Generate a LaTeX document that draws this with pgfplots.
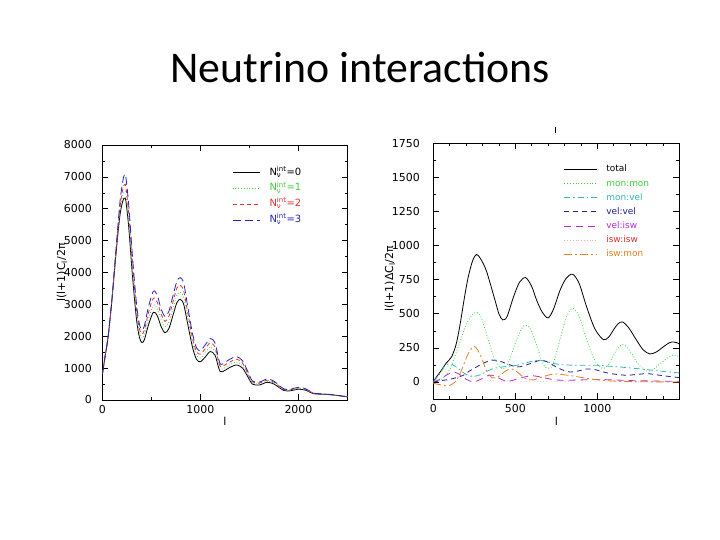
\documentclass[border=0pt]{standalone}
\usepackage{amsmath}
\usepackage{fontspec}
\setmainfont{DejaVu Sans}
\newfontfamily\titlefont{Carlito}
\usepackage{pgfplots}
\usepackage{pgfplotstable}
\pgfplotsset{compat=1.18}

\definecolor{lgreen}{HTML}{3CCF3C}
\definecolor{lred}{HTML}{E03030}
\definecolor{lblue}{HTML}{2424C0}
\definecolor{ccyan}{HTML}{30B8B8}
\definecolor{cnavy}{HTML}{202090}
\definecolor{cpurple}{HTML}{B030D0}
\definecolor{corange}{HTML}{E08020}

% left panel: l, N=0, N=1, N=2, N=3
\pgfplotstableread{
l    n0    n1    n2    n3
2    830   830   830   830
30   1400  1400  1400  1400
60   2000  2000  2000  2000
100  3200  3200  3200  3230
140  4600  4650  4690  4740
180  5800  5920  6030  6210
210  6250  6440  6630  6880
225  6330  6540  6750  7060
240  6250  6470  6690  7000
270  5400  5620  5830  6100
310  3800  3990  4180  4410
350  2500  2650  2800  2980
380  1950  2090  2220  2360
405  1800  1940  2070  2200
430  1900  2050  2200  2340
470  2350  2540  2730  2910
520  2750  2970  3190  3410
560  2650  2860  3070  3290
600  2300  2510  2690  2850
640  2110  2300  2470  2620
680  2250  2450  2630  2790
720  2650  2860  3070  3260
760  3050  3290  3510  3720
795  3160  3380  3600  3840
830  3000  3210  3420  3660
870  2400  2590  2760  2950
920  1650  1800  1930  2080
960  1280  1410  1520  1640
1000 1200  1320  1440  1550
1050 1350  1490  1610  1730
1100 1520  1660  1790  1930
1150 1400  1530  1650  1780
1200 900   990   1070  1150
1250 930   1010  1100  1180
1300 1020  1110  1190  1280
1370 1100  1190  1280  1360
1430 1000  1080  1160  1230
1480 750   810   860   920
1530 500   540   570   600
1600 470   500   530   560
1680 555   590   620   660
1750 500   530   560   590
1850 300   320   330   350
1920 290   310   320   340
2000 340   360   380   400
2080 300   315   330   345
2150 200   210   215   220
2250 180   185   188   190
2350 160   162   163   165
2450 120   120   121   122
2500 100   100   100   100
}\cltab

% right panel, one table per term
\pgfplotstableread{
l v
0 5
40 70
80 140
112 185
140 280
163 420
190 620
213 770
240 890
264 935
290 900
325 810
376 600
400 500
423 455
450 480
488 620
525 730
563 765
600 700
630 600
665 510
701 470
735 540
772 670
810 760
850 790
890 720
935 550
985 390
1037 310
1070 330
1098 380
1125 425
1153 440
1190 400
1240 305
1280 235
1321 205
1360 220
1403 258
1440 288
1464 293
1485 288
1500 278
}\ttotal
\pgfplotstableread{
l v
0 0
50 20
100 90
150 250
200 420
240 495
265 510
290 480
330 330
370 180
410 105
435 100
465 160
505 300
540 395
565 415
595 385
635 250
670 130
700 100
730 130
770 300
810 470
850 540
890 480
930 330
980 170
1030 100
1070 130
1110 220
1155 275
1200 225
1250 130
1300 80
1340 90
1390 140
1440 185
1470 198
1500 185
}\tmonmon
\pgfplotstableread{
l v
0 0
40 60
75 125
112 130
150 100
200 55
244 40
290 55
330 80
366 98
420 110
508 122
580 145
650 160
700 145
772 128
880 122
996 122
1080 115
1138 110
1240 98
1342 85
1420 75
1500 66
}\tmonvel
\pgfplotstableread{
l v
0 0
61 12
120 25
183 49
220 80
264 110
310 140
356 160
400 155
447 134
508 110
550 118
590 134
650 158
690 150
732 122
780 92
834 73
880 80
935 95
980 92
1037 73
1100 58
1179 49
1240 55
1301 61
1340 56
1382 49
1440 40
1500 32
}\tvelvel
\pgfplotstableread{
l v
0 0
40 20
80 50
122 73
160 55
200 20
244 0
290 20
330 45
356 50
390 35
427 12
470 8
520 25
569 40
610 45
660 35
732 17
800 12
900 15
1000 18
1100 15
1200 10
1300 8
1400 6
1500 5
}\tvelisw
\pgfplotstableread{
l v
0 20
30 10
60 5
100 15
140 35
190 50
230 45
280 25
330 12
400 5
500 3
700 2
1000 1
1500 0
}\tiswisw
\pgfplotstableread{
l v
0 -10
40 -20
80 -29
110 -20
140 10
170 80
210 200
250 261
290 190
325 80
360 30
400 40
440 80
478 95
515 70
560 25
610 15
660 35
732 58
800 52
880 38
960 22
1050 10
1150 4
1300 1
1500 0
}\tiswmon

\pgfplotsset{
  panel/.style={
    scale only axis, anchor=south west, clip=true,
    axis line style={line width=0.8bp},
    tick style={black, line width=0.6bp},
    major tick length=6bp, minor tick length=3bp,
    tick align=inside,
    ticklabel style={font=\fontsize{11}{13}\selectfont},
    xticklabel style={yshift=-2bp},
    /pgf/number format/assume math mode=true,
    /pgf/number format/1000 sep={},
    scaled ticks=false,
    label style={font=\fontsize{11}{13}\selectfont},
    xlabel style={anchor=center},
    ylabel style={anchor=center},
    legend cell align=left,
    every axis plot/.append style={line width=0.8bp, smooth, tension=0.5},
  },
}

\begin{document}
\begin{tikzpicture}
\path[use as bounding box, fill=white] (0bp,0bp) rectangle (720bp,540bp);
\node[font=\titlefont\fontsize{44}{50}\selectfont] at (360bp,472bp) {Neutrino interactions};
\draw[line width=0.6bp] (555bp,407bp) -- (555bp,413bp);

\begin{axis}[panel,
  at={(102.3bp,140bp)}, width=245.2bp, height=255bp,
  xmin=0, xmax=2500, ymin=0, ymax=8000,
  xtick={0,1000,2000}, minor xtick={500,1500},
  ytick={0,1000,...,8000}, minor ytick={500,1500,...,7500},
  yticklabel style={xshift=-7bp},
  xlabel={l}, ylabel={l(l+1)C\textsubscript{l}/2π},
  xlabel style={at={(axis description cs:0.5,-0.082)}},
  ylabel style={at={(axis description cs:-0.164,0.5)}},
  legend style={at={(axis description cs:0.529,0.92)}, anchor=north west,
    draw=none, fill=none, inner sep=0pt, row sep=1.2bp, column sep=9bp,
    font=\fontsize{10}{12}\selectfont,
    nodes={inner sep=0.5bp, text height=9bp, text depth=4.5bp}},
  legend image code/.code={\draw[#1, line width=0.8bp] (0bp,0bp) -- (27bp,0bp);},
]
\addplot[black] table[x=l, y=n0] {\cltab};
\addlegendentry{N$_{\text{ν}}^{\text{int}}$=0}
\addplot[lgreen, dotted] table[x=l, y=n1] {\cltab};
\addlegendentry{\textcolor{lgreen}{N$_{\text{ν}}^{\text{int}}$=1}}
\addplot[lred, dash pattern=on 4bp off 3bp] table[x=l, y=n2] {\cltab};
\addlegendentry{\textcolor{lred}{N$_{\text{ν}}^{\text{int}}$=2}}
\addplot[lblue, dash pattern=on 8bp off 4bp] table[x=l, y=n3] {\cltab};
\addlegendentry{\textcolor{lblue}{N$_{\text{ν}}^{\text{int}}$=3}}
\end{axis}

\begin{axis}[panel,
  at={(433.3bp,141bp)}, width=246bp, height=255.7bp,
  xmin=0, xmax=1500, ymin=-125, ymax=1750,
  xtick={0,500,1000}, minor xtick={100,200,300,400,600,700,800,900,1100,1200,1300,1400},
  ytick={0,250,...,1750}, minor ytick={-125,125,375,625,875,1125,1375,1625},
  yticklabel style={xshift=-10bp},
  xlabel={l}, ylabel={l(l+1)ΔC\textsubscript{l}/2π},
  xlabel style={at={(axis description cs:0.5,-0.086)}},
  ylabel style={at={(axis description cs:-0.176,0.47)}},
  legend style={at={(axis description cs:0.531,0.918)}, anchor=north west,
    draw=none, fill=none, inner sep=0pt, row sep=4.1bp, column sep=8bp,
    font=\fontsize{9}{11}\selectfont,
    nodes={inner sep=0.5bp, text height=7bp, text depth=2bp}},
  legend image code/.code={\draw[#1, line width=0.7bp] (0bp,0bp) -- (33bp,0bp);},
]
\addplot[black] table[x=l, y=v] {\ttotal};
\addlegendentry{total}
\addplot[lgreen, dotted] table[x=l, y=v] {\tmonmon};
\addlegendentry{\textcolor{lgreen}{mon:mon}}
\addplot[ccyan, dash pattern=on 6bp off 3bp on 1.5bp off 3bp] table[x=l, y=v] {\tmonvel};
\addlegendentry{\textcolor{ccyan}{mon:vel}}
\addplot[cnavy, dash pattern=on 5bp off 4bp] table[x=l, y=v] {\tvelvel};
\addlegendentry{\textcolor{cnavy}{vel:vel}}
\addplot[cpurple, dash pattern=on 7bp off 5bp] table[x=l, y=v] {\tvelisw};
\addlegendentry{\textcolor{cpurple}{vel:isw}}
\addplot[lred, dotted, line width=0.5bp, opacity=0.4] table[x=l, y=v] {\tiswisw};
\addlegendentry{\textcolor{lred}{isw:isw}}
\addplot[corange, dash pattern=on 8bp off 3bp on 2bp off 3bp] table[x=l, y=v] {\tiswmon};
\addlegendentry{\textcolor{corange}{isw:mon}}
\end{axis}
\end{tikzpicture}
\end{document}
